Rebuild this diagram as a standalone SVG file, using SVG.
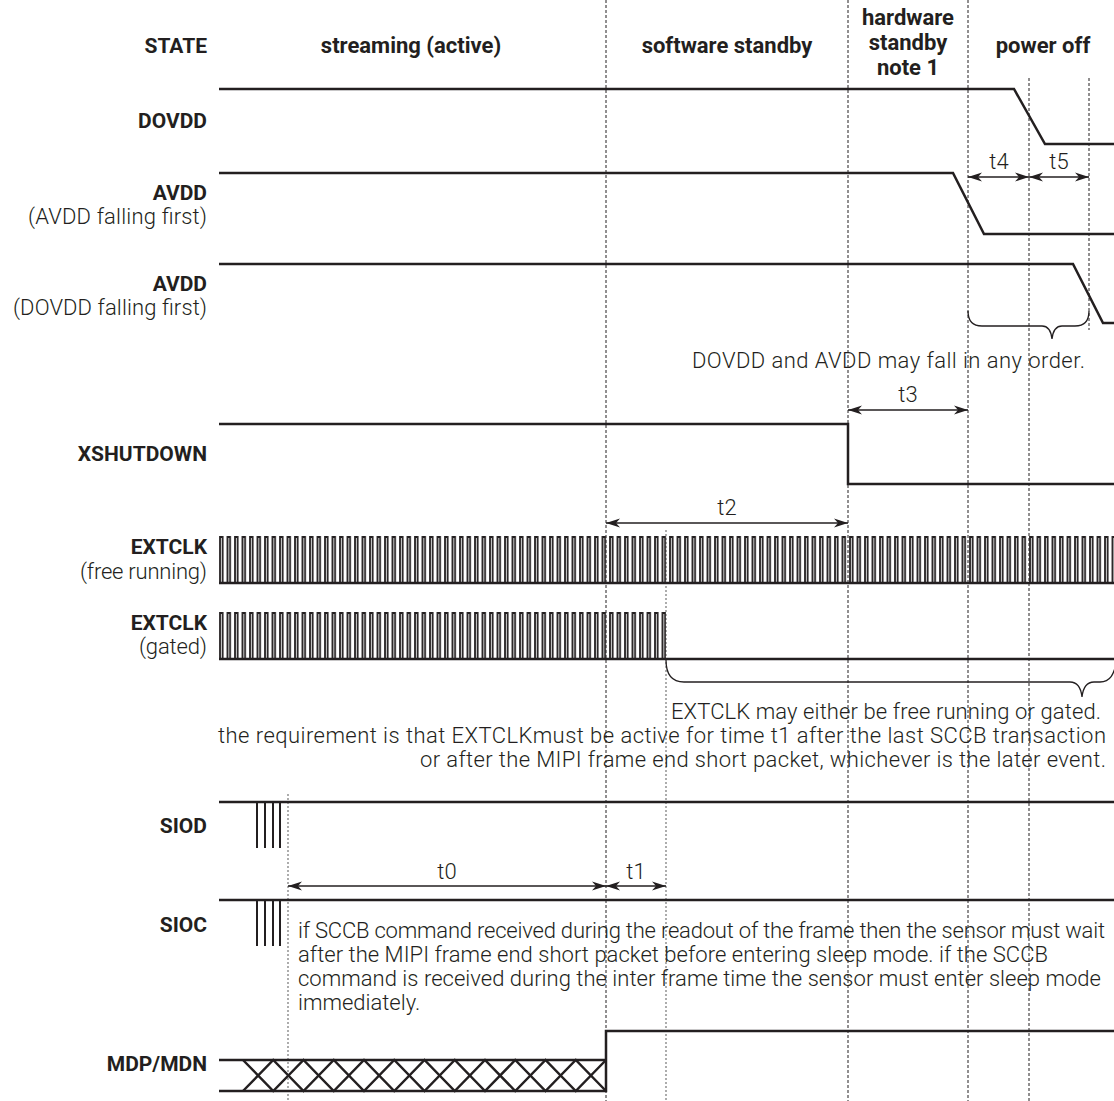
<svg xmlns="http://www.w3.org/2000/svg" width="1114" height="1101" viewBox="0 0 1114 1101">
<style>
text{font-family:Roboto,"Open Sans","Liberation Sans",sans-serif;fill:#231f20}
.b{font-weight:700;font-size:21px}
.h{font-weight:700;font-size:22px}
.r{font-weight:300;font-size:22px}
.lbl{text-anchor:end}
.mid{text-anchor:middle}
.sig{fill:none;stroke:#231f20;stroke-width:2.5}
.thin{fill:none;stroke:#231f20;stroke-width:1.3}
.dash{stroke:#231f20;stroke-width:1;stroke-dasharray:3 2;fill:none}
.gray{stroke:#8a8a8a;stroke-width:1.4;stroke-dasharray:2 2;fill:none}
.arr{stroke:#231f20;stroke-width:1.3;fill:none;marker-start:url(#ah);marker-end:url(#ah)}
.pul{fill:none;stroke:#231f20;stroke-width:2}
</style>
<defs>
<marker id="ah" viewBox="0 0 14 10" refX="14" refY="5" markerWidth="14" markerHeight="10" markerUnits="userSpaceOnUse" orient="auto-start-reverse">
<path d="M0,0.5 L14,5 L0,9.5 L4,5 z" fill="#231f20"/>
</marker>
<pattern id="clk" patternUnits="userSpaceOnUse" x="219" y="536" width="7.5" height="48">
<path d="M1,47 V1 H3.6 V47" fill="none" stroke="#231f20" stroke-width="1.8"/>
</pattern>
<pattern id="clkg" patternUnits="userSpaceOnUse" x="219" y="612" width="7.5" height="48">
<path d="M1,47 V1 H3.6 V47" fill="none" stroke="#231f20" stroke-width="1.8"/>
</pattern>
</defs>

<g id="guides">
<line class="dash" x1="606" y1="0" x2="606" y2="1101"/>
<line class="dash" x1="848" y1="0" x2="848" y2="1101"/>
<line class="dash" x1="968" y1="0" x2="968" y2="1101"/>
<line class="dash" x1="1029" y1="78" x2="1029" y2="1101"/>
<line class="dash" x1="1089" y1="78" x2="1089" y2="330"/>
<line class="gray" x1="288" y1="794" x2="288" y2="1101"/>
<line class="gray" x1="666" y1="530" x2="666" y2="1101"/>
</g>

<g id="header">
<text class="b lbl" x="207" y="53">STATE</text>
<text class="h mid" x="411" y="53">streaming (active)</text>
<text class="h mid" x="727" y="53">software standby</text>
<text class="h mid" x="908" y="25">hardware</text>
<text class="h mid" x="908" y="50">standby</text>
<text class="h mid" x="908" y="75">note 1</text>
<text class="h mid" x="1043" y="53">power off</text>
</g>

<g id="dovdd">
<text class="b lbl" x="207" y="128">DOVDD</text>
<path class="sig" d="M219,89 H1014 L1045,144 H1114"/>
</g>

<g id="avdd1">
<text class="b lbl" x="207" y="200">AVDD</text>
<text class="r lbl" x="207" y="224" textLength="179">(AVDD falling first)</text>
<path class="sig" d="M219,173 H953 L984,234 H1114"/>
</g>

<g id="avdd2">
<text class="b lbl" x="207" y="291">AVDD</text>
<text class="r lbl" x="207" y="315" textLength="194">(DOVDD falling first)</text>
<path class="sig" d="M219,264 H1073 L1103,323 H1114"/>
</g>

<g id="xshutdown">
<text class="b lbl" x="207" y="461">XSHUTDOWN</text>
<path class="sig" d="M219,424 H848 V484 H1114"/>
</g>

<g id="extclk-free">
<text class="b lbl" x="207" y="554">EXTCLK</text>
<text class="r lbl" x="207" y="579" textLength="127">(free running)</text>
<rect x="219" y="536" width="895" height="48" fill="url(#clk)"/>
<line class="sig" x1="219" y1="583" x2="1114" y2="583"/>
</g>

<g id="extclk-gated">
<text class="b lbl" x="207" y="630">EXTCLK</text>
<text class="r lbl" x="207" y="654" textLength="68">(gated)</text>
<rect x="219" y="612" width="447" height="48" fill="url(#clkg)"/>
<line class="sig" x1="219" y1="659" x2="1114" y2="659"/>
</g>

<g id="siod">
<text class="b lbl" x="207" y="833">SIOD</text>
<path class="sig" d="M219,802 H1114"/>
<path class="pul" d="M257,802 V848 M265,802 V848 M273,802 V848 M280,802 V848"/>
</g>

<g id="sioc">
<text class="b lbl" x="207" y="932">SIOC</text>
<path class="sig" d="M219,900 H1114"/>
<path class="pul" d="M257,900 V946 M265,900 V946 M273,900 V946 M280,900 V946"/>
</g>

<g id="mdp">
<text class="b lbl" x="207" y="1071">MDP/MDN</text>
<path class="sig" d="M219,1060 H606 M219,1091 H606 V1031 H1114"/>
<path class="sig" d="M243,1060 L273.25,1091 L303.5,1060 L333.75,1091 L364,1060 L394.25,1091 L424.5,1060 L454.75,1091 L485,1060 L515.25,1091 L545.5,1060 L575.75,1091 L606,1060"/>
<path class="sig" d="M243,1091 L273.25,1060 L303.5,1091 L333.75,1060 L364,1091 L394.25,1060 L424.5,1091 L454.75,1060 L485,1091 L515.25,1060 L545.5,1091 L575.75,1060 L606,1091"/>
</g>

<g id="connectors">
<line class="arr" x1="968" y1="177" x2="1029" y2="177"/>
<line class="arr" x1="1029" y1="177" x2="1089" y2="177"/>
<line class="arr" x1="848" y1="410" x2="968" y2="410"/>
<line class="arr" x1="606" y1="523" x2="848" y2="523"/>
<line class="arr" x1="288" y1="886" x2="606" y2="886"/>
<line class="arr" x1="606" y1="886" x2="666" y2="886"/>
<path class="thin" d="M968,311 C968,321 972,326 982,326 L1042,326 C1048,326 1051,330 1052,339 C1053,330 1056,326 1062,326 L1075,326 C1085,326 1089,321 1089,311"/>
<path class="thin" d="M666,660 C666,674 671,682 684,682 L1070,682 C1077,682 1081,688 1082,697 C1083,688 1087,682 1094,682 L1100,682 C1110,682 1114,675 1117,660"/>
</g>

<g id="timing-labels">
<text class="r mid" x="999" y="169">t4</text>
<text class="r mid" x="1059" y="169">t5</text>
<text class="r mid" x="908" y="402">t3</text>
<text class="r mid" x="727" y="515">t2</text>
<text class="r mid" x="447" y="879">t0</text>
<text class="r mid" x="636" y="879">t1</text>
</g>

<g id="notes">
<text class="r lbl" x="1085" y="368" textLength="393">DOVDD and AVDD may fall in any order.</text>
<text class="r lbl" x="1101" y="719" textLength="430">EXTCLK may either be free running or gated.</text>
<text class="r lbl" x="1106" y="743" textLength="888">the requirement is that EXTCLKmust be active for time t1 after the last SCCB transaction</text>
<text class="r lbl" x="1106" y="767" textLength="686">or after the MIPI frame end short packet, whichever is the later event.</text>
<text class="r" x="298" y="938" textLength="807">if SCCB command received during the readout of the frame then the sensor must wait</text>
<text class="r" x="298" y="962" textLength="750">after the MIPI frame end short packet before entering sleep mode. if the SCCB</text>
<text class="r" x="298" y="986" textLength="803">command is received during the inter frame time the sensor must enter sleep mode</text>
<text class="r" x="298" y="1010">immediately.</text>
</g>
</svg>
